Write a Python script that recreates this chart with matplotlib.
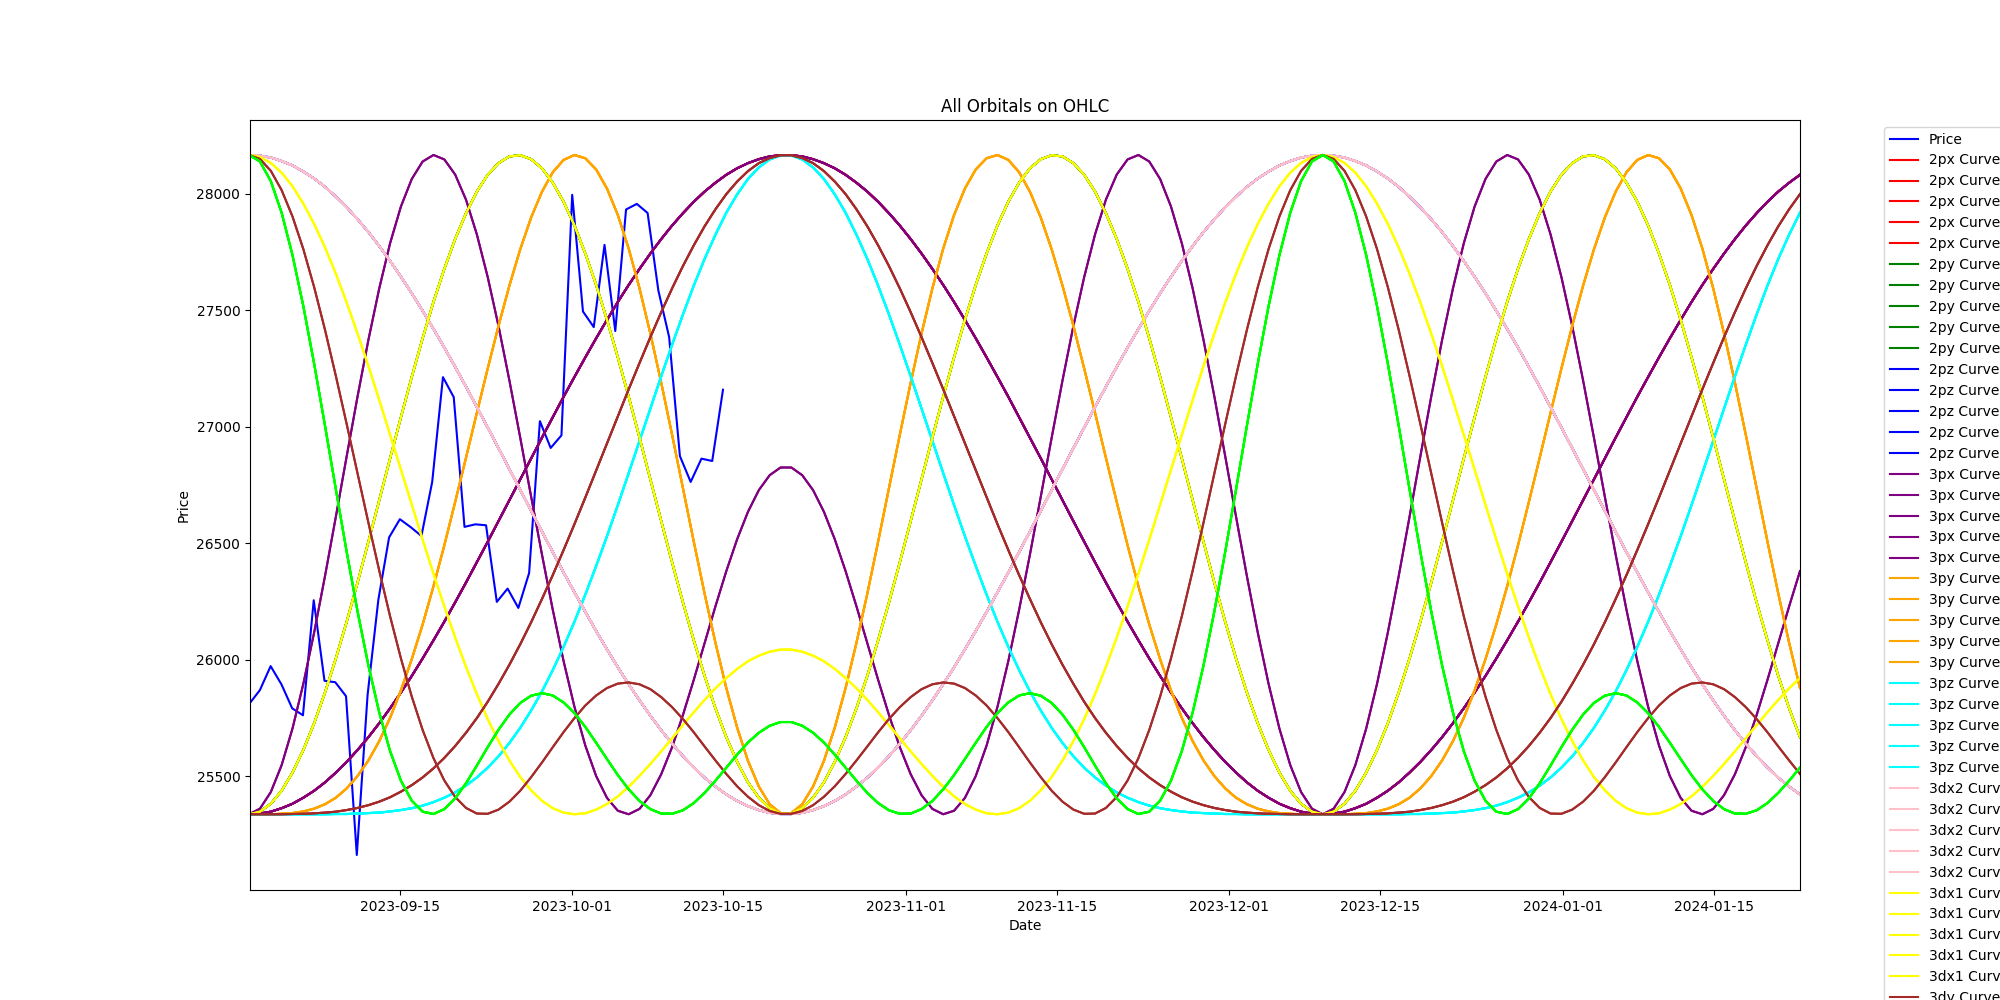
import matplotlib
matplotlib.use("Agg")
import matplotlib.pyplot as plt
import pandas as pd

# ---------------- data ----------------
price_dates = pd.date_range("2023-09-01", periods=45, freq="D")
price = [25809, 25869, 25972, 25894, 25791, 25761, 26255, 25909, 25903, 25843,
         25161, 25848, 26257, 26525, 26603, 26569, 26531, 26763, 27213, 27127,
         26570, 26581, 26577, 26248, 26305, 26222, 26372, 27024, 26909, 26963,
         27996, 27495, 27428, 27781, 27411, 27933, 27957, 27918, 27585, 27385,
         26874, 26763, 26863, 26853, 27159]

curve_dates = pd.date_range("2023-09-01", "2024-01-23", periods=144)
x_start = "2023-09-01 02:00"

pink_curve = [
    28167, 28164, 28156, 28141, 28122, 28096, 28066, 28030, 27988, 27942,
    27891, 27836, 27776, 27712, 27644, 27573, 27498, 27420, 27340, 27257,
    27172, 27085, 26997, 26908, 26819, 26729, 26639, 26550, 26462, 26374,
    26289, 26205, 26123, 26044, 25967, 25894, 25825, 25759, 25697, 25639,
    25586, 25537, 25493, 25455, 25421, 25393, 25371, 25354, 25342, 25337,
    25337, 25342, 25354, 25371, 25393, 25421, 25455, 25493, 25537, 25586,
    25639, 25697, 25759, 25825, 25894, 25967, 26044, 26123, 26205, 26289,
    26374, 26462, 26550, 26639, 26729, 26819, 26908, 26997, 27085, 27172,
    27257, 27340, 27420, 27498, 27573, 27644, 27712, 27776, 27836, 27891,
    27942, 27988, 28030, 28066, 28096, 28122, 28141, 28156, 28164, 28167,
    28164, 28156, 28141, 28122, 28096, 28066, 28030, 27988, 27942, 27891,
    27836, 27776, 27712, 27644, 27573, 27498, 27420, 27340, 27257, 27172,
    27085, 26997, 26908, 26819, 26729, 26639, 26550, 26462, 26374, 26289,
    26205, 26123, 26044, 25967, 25894, 25825, 25759, 25697, 25639, 25586,
    25537, 25493, 25455, 25421]

purple_wide = [
    25336, 25339, 25347, 25362, 25381, 25407, 25437, 25473, 25515, 25561,
    25612, 25667, 25727, 25791, 25859, 25930, 26005, 26083, 26163, 26246,
    26331, 26418, 26506, 26595, 26684, 26774, 26864, 26953, 27041, 27129,
    27214, 27298, 27380, 27459, 27536, 27609, 27678, 27744, 27806, 27864,
    27917, 27966, 28010, 28048, 28082, 28110, 28132, 28149, 28161, 28166,
    28166, 28161, 28149, 28132, 28110, 28082, 28048, 28010, 27966, 27917,
    27864, 27806, 27744, 27678, 27609, 27536, 27459, 27380, 27298, 27214,
    27129, 27041, 26953, 26864, 26774, 26684, 26595, 26506, 26418, 26331,
    26246, 26163, 26083, 26005, 25930, 25859, 25791, 25727, 25667, 25612,
    25561, 25515, 25473, 25437, 25407, 25381, 25362, 25347, 25339, 25336,
    25339, 25347, 25362, 25381, 25407, 25437, 25473, 25515, 25561, 25612,
    25667, 25727, 25791, 25859, 25930, 26005, 26083, 26163, 26246, 26331,
    26418, 26506, 26595, 26684, 26774, 26864, 26953, 27041, 27129, 27214,
    27298, 27380, 27459, 27536, 27609, 27678, 27744, 27806, 27864, 27917,
    27966, 28010, 28048, 28082]

purple_narrow = [
    25336, 25360, 25431, 25547, 25704, 25896, 26117, 26359, 26614, 26874,
    27130, 27373, 27594, 27788, 27946, 28064, 28139, 28167, 28148, 28083,
    27975, 27826, 27643, 27432, 27199, 26953, 26701, 26452, 26214, 25993,
    25797, 25631, 25500, 25406, 25351, 25336, 25359, 25418, 25508, 25624,
    25762, 25913, 26071, 26229, 26380, 26517, 26635, 26728, 26792, 26825,
    26825, 26792, 26728, 26635, 26517, 26380, 26229, 26071, 25913, 25762,
    25624, 25508, 25418, 25359, 25336, 25351, 25406, 25500, 25631, 25797,
    25993, 26214, 26452, 26701, 26953, 27199, 27432, 27643, 27826, 27975,
    28083, 28148, 28167, 28139, 28064, 27946, 27788, 27594, 27373, 27130,
    26874, 26614, 26359, 26117, 25896, 25704, 25547, 25431, 25360, 25336,
    25360, 25431, 25547, 25704, 25896, 26117, 26359, 26614, 26874, 27130,
    27373, 27594, 27788, 27946, 28064, 28139, 28167, 28148, 28083, 27975,
    27826, 27643, 27432, 27199, 26953, 26701, 26452, 26214, 25993, 25797,
    25631, 25500, 25406, 25351, 25336, 25359, 25418, 25508, 25624, 25762,
    25913, 26071, 26229, 26380]

orange_curve = [
    25336, 25336, 25336, 25338, 25341, 25348, 25360, 25379, 25407, 25447,
    25500, 25567, 25650, 25750, 25868, 26002, 26151, 26315, 26491, 26677,
    26867, 27060, 27250, 27434, 27606, 27762, 27898, 28009, 28093, 28146,
    28167, 28153, 28105, 28023, 27909, 27765, 27594, 27400, 27189, 26966,
    26737, 26507, 26283, 26072, 25878, 25708, 25565, 25455, 25379, 25341,
    25341, 25379, 25455, 25565, 25708, 25878, 26072, 26283, 26507, 26737,
    26966, 27189, 27400, 27594, 27765, 27909, 28023, 28105, 28153, 28167,
    28146, 28093, 28009, 27898, 27762, 27606, 27434, 27250, 27060, 26867,
    26677, 26491, 26315, 26151, 26002, 25868, 25750, 25650, 25567, 25500,
    25447, 25407, 25379, 25360, 25348, 25341, 25338, 25336, 25336, 25336,
    25336, 25336, 25338, 25341, 25348, 25360, 25379, 25407, 25447, 25500,
    25567, 25650, 25750, 25868, 26002, 26151, 26315, 26491, 26677, 26867,
    27060, 27250, 27434, 27606, 27762, 27898, 28009, 28093, 28146, 28167,
    28153, 28105, 28023, 27909, 27765, 27594, 27400, 27189, 26966, 26737,
    26507, 26283, 26072, 25878]

cyan_curve = [
    25336, 25336, 25336, 25336, 25336, 25336, 25336, 25336, 25337, 25337,
    25339, 25341, 25343, 25348, 25354, 25362, 25373, 25388, 25407, 25430,
    25459, 25494, 25536, 25585, 25642, 25707, 25781, 25863, 25955, 26055,
    26163, 26279, 26402, 26530, 26664, 26801, 26940, 27079, 27217, 27352,
    27482, 27606, 27721, 27825, 27919, 27998, 28064, 28114, 28148, 28165,
    28165, 28148, 28114, 28064, 27998, 27919, 27825, 27721, 27606, 27482,
    27352, 27217, 27079, 26940, 26801, 26664, 26530, 26402, 26279, 26163,
    26055, 25955, 25863, 25781, 25707, 25642, 25585, 25536, 25494, 25459,
    25430, 25407, 25388, 25373, 25362, 25354, 25348, 25343, 25341, 25339,
    25337, 25337, 25336, 25336, 25336, 25336, 25336, 25336, 25336, 25336,
    25336, 25336, 25336, 25336, 25336, 25336, 25336, 25337, 25337, 25339,
    25341, 25343, 25348, 25354, 25362, 25373, 25388, 25407, 25430, 25459,
    25494, 25536, 25585, 25642, 25707, 25781, 25863, 25955, 26055, 26163,
    26279, 26402, 26530, 26664, 26801, 26940, 27079, 27217, 27352, 27482,
    27606, 27721, 27825, 27919]

yellow_a = [
    28167, 28158, 28133, 28091, 28033, 27958, 27871, 27770, 27657, 27533,
    27400, 27261, 27115, 26966, 26816, 26665, 26515, 26369, 26229, 26095,
    25969, 25852, 25745, 25650, 25567, 25496, 25439, 25394, 25362, 25343,
    25336, 25340, 25356, 25380, 25413, 25454, 25501, 25552, 25606, 25662,
    25719, 25774, 25827, 25877, 25921, 25960, 25993, 26017, 26034, 26043,
    26043, 26034, 26017, 25993, 25960, 25921, 25877, 25827, 25774, 25719,
    25662, 25606, 25552, 25501, 25454, 25413, 25380, 25356, 25340, 25336,
    25343, 25362, 25394, 25439, 25496, 25567, 25650, 25745, 25852, 25969,
    26095, 26229, 26369, 26515, 26665, 26816, 26966, 27115, 27261, 27400,
    27533, 27657, 27770, 27871, 27958, 28033, 28091, 28133, 28158, 28167,
    28158, 28133, 28091, 28033, 27958, 27871, 27770, 27657, 27533, 27400,
    27261, 27115, 26966, 26816, 26665, 26515, 26369, 26229, 26095, 25969,
    25852, 25745, 25650, 25567, 25496, 25439, 25394, 25362, 25343, 25336,
    25340, 25356, 25380, 25413, 25454, 25501, 25552, 25606, 25662, 25719,
    25774, 25827, 25877, 25921]

yellow_b = [
    25336, 25347, 25381, 25437, 25515, 25612, 25727, 25859, 26005, 26163,
    26331, 26506, 26684, 26864, 27041, 27214, 27380, 27536, 27678, 27806,
    27917, 28010, 28082, 28132, 28161, 28166, 28149, 28110, 28048, 27966,
    27864, 27744, 27609, 27459, 27298, 27129, 26953, 26774, 26595, 26418,
    26246, 26083, 25930, 25791, 25667, 25561, 25473, 25407, 25362, 25339,
    25339, 25362, 25407, 25473, 25561, 25667, 25791, 25930, 26083, 26246,
    26418, 26595, 26774, 26953, 27129, 27298, 27459, 27609, 27744, 27864,
    27966, 28048, 28110, 28149, 28166, 28161, 28132, 28082, 28010, 27917,
    27806, 27678, 27536, 27380, 27214, 27041, 26864, 26684, 26506, 26331,
    26163, 26005, 25859, 25727, 25612, 25515, 25437, 25381, 25347, 25336,
    25347, 25381, 25437, 25515, 25612, 25727, 25859, 26005, 26163, 26331,
    26506, 26684, 26864, 27041, 27214, 27380, 27536, 27678, 27806, 27917,
    28010, 28082, 28132, 28161, 28166, 28149, 28110, 28048, 27966, 27864,
    27744, 27609, 27459, 27298, 27129, 26953, 26774, 26595, 26418, 26246,
    26083, 25930, 25791, 25667]

brown_wide = [
    25336, 25336, 25336, 25336, 25337, 25338, 25340, 25343, 25347, 25354,
    25363, 25375, 25390, 25409, 25433, 25461, 25494, 25533, 25578, 25629,
    25686, 25749, 25819, 25896, 25978, 26066, 26160, 26260, 26363, 26471,
    26582, 26696, 26812, 26928, 27045, 27161, 27274, 27385, 27492, 27594,
    27690, 27779, 27861, 27934, 27999, 28053, 28098, 28132, 28154, 28166,
    28166, 28154, 28132, 28098, 28053, 27999, 27934, 27861, 27779, 27690,
    27594, 27492, 27385, 27274, 27161, 27045, 26928, 26812, 26696, 26582,
    26471, 26363, 26260, 26160, 26066, 25978, 25896, 25819, 25749, 25686,
    25629, 25578, 25533, 25494, 25461, 25433, 25409, 25390, 25375, 25363,
    25354, 25347, 25343, 25340, 25338, 25337, 25336, 25336, 25336, 25336,
    25336, 25336, 25336, 25337, 25338, 25340, 25343, 25347, 25354, 25363,
    25375, 25390, 25409, 25433, 25461, 25494, 25533, 25578, 25629, 25686,
    25749, 25819, 25896, 25978, 26066, 26160, 26260, 26363, 26471, 26582,
    26696, 26812, 26928, 27045, 27161, 27274, 27385, 27492, 27594, 27690,
    27779, 27861, 27934, 27999]

brown_b = [
    28167, 28150, 28099, 28016, 27903, 27763, 27599, 27416, 27218, 27011,
    26799, 26588, 26382, 26186, 26005, 25841, 25698, 25577, 25481, 25410,
    25363, 25339, 25338, 25356, 25390, 25437, 25495, 25558, 25624, 25689,
    25749, 25803, 25846, 25878, 25897, 25902, 25894, 25873, 25839, 25796,
    25745, 25688, 25627, 25567, 25509, 25456, 25411, 25375, 25350, 25338,
    25338, 25350, 25375, 25411, 25456, 25509, 25567, 25627, 25688, 25745,
    25796, 25839, 25873, 25894, 25902, 25897, 25878, 25846, 25803, 25749,
    25689, 25624, 25558, 25495, 25437, 25390, 25356, 25338, 25339, 25363,
    25410, 25481, 25577, 25698, 25841, 26005, 26186, 26382, 26588, 26799,
    27011, 27218, 27416, 27599, 27763, 27903, 28016, 28099, 28150, 28167,
    28150, 28099, 28016, 27903, 27763, 27599, 27416, 27218, 27011, 26799,
    26588, 26382, 26186, 26005, 25841, 25698, 25577, 25481, 25410, 25363,
    25339, 25338, 25356, 25390, 25437, 25495, 25558, 25624, 25689, 25749,
    25803, 25846, 25878, 25897, 25902, 25894, 25873, 25839, 25796, 25745,
    25688, 25627, 25567, 25509]

lime_curve = [
    28167, 28139, 28055, 27919, 27737, 27518, 27270, 27004, 26731, 26462,
    26207, 25975, 25773, 25607, 25480, 25394, 25347, 25337, 25358, 25404,
    25469, 25545, 25624, 25699, 25764, 25814, 25845, 25856, 25846, 25816,
    25770, 25711, 25643, 25573, 25504, 25443, 25393, 25358, 25339, 25338,
    25353, 25384, 25428, 25480, 25536, 25592, 25644, 25686, 25716, 25732,
    25732, 25716, 25686, 25644, 25592, 25536, 25480, 25428, 25384, 25353,
    25338, 25339, 25358, 25393, 25443, 25504, 25573, 25643, 25711, 25770,
    25816, 25846, 25856, 25845, 25814, 25764, 25699, 25624, 25545, 25469,
    25404, 25358, 25337, 25347, 25394, 25480, 25607, 25773, 25975, 26207,
    26462, 26731, 27004, 27270, 27518, 27737, 27919, 28055, 28139, 28167,
    28139, 28055, 27919, 27737, 27518, 27270, 27004, 26731, 26462, 26207,
    25975, 25773, 25607, 25480, 25394, 25347, 25337, 25358, 25404, 25469,
    25545, 25624, 25699, 25764, 25814, 25845, 25856, 25846, 25816, 25770,
    25711, 25643, 25573, 25504, 25443, 25393, 25358, 25339, 25338, 25353,
    25384, 25428, 25480, 25536]

family_names = ["2px", "2py", "2pz", "3px", "3py", "3pz", "3dx2", "3dx1", "3dy", "3dz"]
family_colors = ["red", "green", "blue", "purple", "orange", "cyan", "pink", "yellow", "brown", "lime"]
family_curves = [
    [purple_wide] * 5,
    [yellow_b] * 5,
    [pink_curve] * 5,
    [purple_wide, purple_narrow, purple_wide, purple_narrow, purple_wide],
    [orange_curve] * 5,
    [cyan_curve] * 5,
    [pink_curve] * 5,
    [yellow_a, yellow_b, yellow_a, yellow_b, yellow_a],
    [brown_wide, brown_b, brown_wide, brown_b, brown_wide],
    [lime_curve] * 5,
]

# ---------------- plot ----------------
fig, ax = plt.subplots(figsize=(20, 10), dpi=100)
ax.plot(price_dates, price, color="blue", label="Price")
for name, color, curves in zip(family_names, family_colors, family_curves):
    for i, values in enumerate(curves):
        ax.plot(curve_dates, values, color=color, label=f"{name} Curve {i + 1}")

ax.set_xlim(pd.Timestamp(x_start), curve_dates[-1])
ax.set_title("All Orbitals on OHLC")
ax.set_xlabel("Date")
ax.set_ylabel("Price")
ax.legend(loc="upper left", bbox_to_anchor=(1.05, 1))
fig.savefig("out.png")
